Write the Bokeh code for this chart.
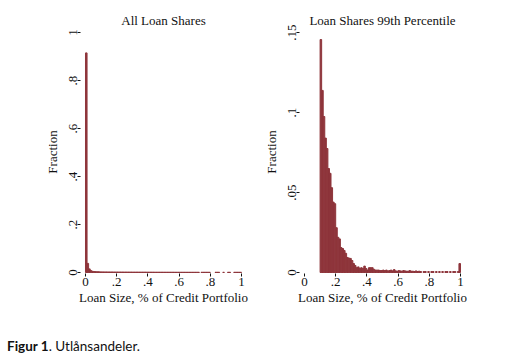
from bokeh.plotting import figure
from bokeh.layouts import column, row
from bokeh.models import Div, FixedTicker
from bokeh.embed import file_html
from bokeh.resources import INLINE

# ---------------- data ----------------
bin_width = 0.01

# Left panel: all loan shares, bins starting at 0.00
left_bin_start = 0.0
left_fraction = [
    0.915, 0.038, 0.015, 0.008, 0.005, 0.004, 0.0035, 0.003, 0.003, 0.0025,
    0.0025, 0.0024, 0.0023, 0.0023, 0.0022, 0.0022, 0.0021, 0.0021, 0.002, 0.002,
    0.002, 0.0019, 0.0019, 0.0019, 0.0018, 0.0018, 0.0018, 0.0017, 0.0017, 0.0017,
    0.0016, 0.0016, 0.0016, 0.0016, 0.0015, 0.0015, 0.0015, 0.0015, 0.0015, 0.0014,
    0.0014, 0.0014, 0.0014, 0.0014, 0.0013, 0.0013, 0.0013, 0.0013, 0.0013, 0.0013,
    0.0012, 0.0012, 0.0012, 0.0012, 0.0012, 0.0012, 0.0012, 0.0011, 0.0011, 0.0011,
    0.0011, 0.0011, 0.0011, 0.0011, 0.001, 0.001, 0.001, 0.001, 0.001, 0.001,
    0.001, 0.001, 0.001, 0.0, 0.001, 0.001, 0.001, 0.001, 0.001, 0.001,
    0.0, 0.0, 0.0, 0.001, 0.001, 0.001, 0.0, 0.0, 0.001, 0.0,
    0.0, 0.001, 0.001, 0.0, 0.0, 0.001, 0.001, 0.001, 0.001, 0.001,
]

# Right panel: loan shares above the 99th percentile, bins starting at 0.10
right_bin_start = 0.10
right_fraction = [
    0.1456, 0.1138, 0.0975, 0.084, 0.0775, 0.065, 0.062, 0.053, 0.044, 0.043,
    0.028, 0.022, 0.021, 0.0156, 0.015, 0.0138, 0.012, 0.0094, 0.009, 0.0088,
    0.0075, 0.0056, 0.0044, 0.003, 0.0035, 0.0025, 0.003, 0.0025, 0.004, 0.0025,
    0.0015, 0.003, 0.003, 0.003, 0.002, 0.0015, 0.0015, 0.0015, 0.0012, 0.0012,
    0.0015, 0.0012, 0.0015, 0.001, 0.0012, 0.0015, 0.001, 0.0018, 0.001, 0.0008,
    0.0012, 0.001, 0.0008, 0.0012, 0.001, 0.0008, 0.0008, 0.0012, 0.0008, 0.0008,
    0.0006, 0.001, 0.0006, 0.0008, 0.0006, 0.0, 0.0006, 0.0006, 0.0, 0.0006,
    0.0, 0.0006, 0.0006, 0.0, 0.0006, 0.0, 0.0006, 0.0, 0.0006, 0.0,
    0.0006, 0.0006, 0.0, 0.0006, 0.0, 0.0006, 0.0006, 0.0, 0.0006, 0.0056,
]

x_ticks = [0, 0.2, 0.4, 0.6, 0.8, 1]
x_tick_labels = ["0", ".2", ".4", ".6", ".8", "1"]
left_y_ticks = [0, 0.2, 0.4, 0.6, 0.8, 1]
left_y_labels = ["0", ".2", ".4", ".6", ".8", "1"]
right_y_ticks = [0, 0.05, 0.1, 0.15]
right_y_labels = ["0", ".05", ".1", ".15"]

titles = ["All Loan Shares", "Loan Shares 99th Percentile"]
x_label = "Loan Size, % of Credit Portfolio"
y_label = "Fraction"
caption_bold = "Figur 1"
caption_rest = ". Utlånsandeler."

BAR = "#8E353B"
SERIF = "Liberation Serif"
FS = "13px"


def panel(title, start, heights, yticks, ylabels, ymax, border_left, border_right):
    p = figure(
        frame_width=166, frame_height=243,
        x_range=(-0.032, 1.032),
        y_range=(-ymax / 240.0, ymax * (1 + 2 / 240.0)),
        output_backend="svg", toolbar_location=None,
        min_border_left=border_left, min_border_right=border_right,
        min_border_top=30, min_border_bottom=62,
        title=title,
    )
    xs, tops = [], []
    for i, h in enumerate(heights):
        if h > 0:
            xs.append(start + (i + 0.5) * bin_width)
            tops.append(h)
    p.vbar(x=xs, top=tops, bottom=0, width=bin_width,
           fill_color=BAR, line_color=BAR, line_width=1)

    p.title.text_font = SERIF
    p.title.text_font_size = FS
    p.title.text_font_style = "normal"
    p.title.text_color = "#111111"
    p.title.align = "center"
    p.title.standoff = 6

    p.xgrid.visible = False
    p.ygrid.visible = False
    p.outline_line_color = None
    p.background_fill_color = "white"
    p.border_fill_color = "white"

    for ax in (p.xaxis[0], p.yaxis[0]):
        ax.axis_line_color = None
        ax.major_tick_line_color = "#111111"
        ax.major_tick_line_width = 1
        ax.major_tick_in = 0
        ax.major_tick_out = 3
        ax.minor_tick_line_color = None
        ax.major_label_text_font = SERIF
        ax.major_label_text_font_size = FS
        ax.major_label_text_color = "#111111"
        ax.axis_label_text_font = SERIF
        ax.axis_label_text_font_size = FS
        ax.axis_label_text_font_style = "normal"
        ax.axis_label_text_color = "#111111"

    p.xaxis.ticker = FixedTicker(ticks=x_ticks)
    p.xaxis.major_label_overrides = {t: l for t, l in zip(x_ticks, x_tick_labels)}
    p.xaxis.axis_label = x_label
    p.xaxis.major_label_standoff = 1
    p.xaxis.axis_label_standoff = 1

    p.yaxis.ticker = FixedTicker(ticks=yticks)
    p.yaxis.major_label_overrides = {t: l for t, l in zip(yticks, ylabels)}
    p.yaxis.major_label_orientation = "vertical"
    p.yaxis.axis_label = y_label
    p.yaxis.major_label_standoff = 1
    p.yaxis.axis_label_standoff = 6
    return p


p1 = panel(titles[0], left_bin_start, left_fraction, left_y_ticks, left_y_labels, 1.0, 80, 10)
p2 = panel(titles[1], right_bin_start, right_fraction, right_y_ticks, right_y_labels, 0.15, 43, 20)

cap = Div(
    text='<span style="font-family: Lato; font-size: 13.5px; color: #111;"><b>%s</b>%s</span>'
    % (caption_bold, caption_rest),
    margin=(2, 0, 0, 7),
)

layout = column(row(p1, p2), cap)

open("out.html", "w").write(file_html(layout, INLINE))
